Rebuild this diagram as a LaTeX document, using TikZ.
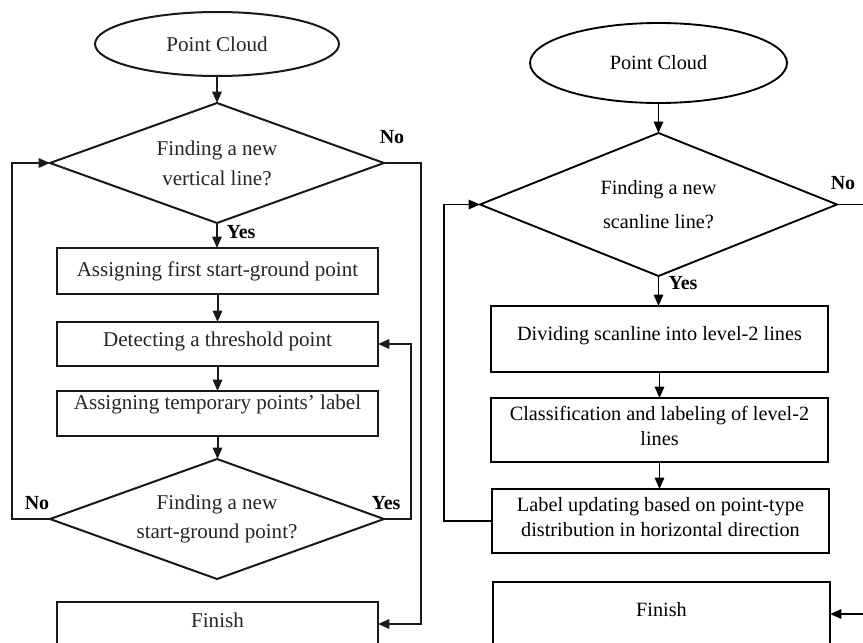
\documentclass[tikz,border=0pt]{standalone}
\usepackage{fontspec}
\setmainfont{Liberation Serif}
\usetikzlibrary{shapes.geometric,arrows.meta}
\begin{document}
\begin{tikzpicture}[x=0.75pt,y=-0.75pt,
  every node/.style={inner sep=0pt,outer sep=0pt},
  lsz/.style={font=\fontsize{15.8}{19}\selectfont,text=black!85},
  rsz/.style={font=\fontsize{15.2}{18.75}\selectfont,text=black},
  lline/.style={line width=1.5pt,draw=black!90},
  rline/.style={line width=1.4pt,draw=black},
  termbox/.style={ellipse,draw},
  decbox/.style={diamond,draw,shape aspect=2.8,align=center},
  procbox/.style={rectangle,draw,align=center},
  arr/.style={-{Triangle[length=8.5pt,width=7pt]}},
  yn/.style={font=\fontsize{15}{18}\selectfont\bfseries,text=black}
]
\fill[white] (0,0) rectangle (863,642);
\useasboundingbox (0,0) rectangle (863,642);
\clip (0,0) rectangle (863,642);

% ---------- left flowchart ----------
\node[termbox,lline,lsz,minimum width=183pt,minimum height=48pt] (pc1) at (217,44) {Point Cloud};
\node[decbox,lline,lsz,font=\fontsize{15.8}{22.5}\selectfont,minimum width=250.5pt,minimum height=90pt] (d1) at (217,163) {Finding a new\\vertical line?};
\node[procbox,lline,lsz,minimum width=240.75pt,minimum height=34.5pt] (b1) at (217.5,271) {Assigning first start-ground point};
\node[procbox,lline,lsz,minimum width=240.75pt,minimum height=33pt,text height=10.9pt,text depth=7.3pt] (b2) at (217.5,344) {Detecting a threshold point};
\node[procbox,lline,lsz,minimum width=240.75pt,minimum height=33.75pt,text height=10.9pt,text depth=16.4pt] (b3) at (217.5,413.5) {Assigning temporary points' label};
\node[decbox,lline,lsz,font=\fontsize{15.8}{21.75}\selectfont,minimum width=250.5pt,minimum height=90pt] (d2) at (217,519) {Finding a new\\start-ground point?};
\node[procbox,lline,lsz,minimum width=240.75pt,minimum height=33pt,text height=10.7pt,text depth=5.2pt] (fin1) at (217.5,624) {Finish};

\node[yn] (yes1) at (241,232) {Yes};
\node[yn] (no1) at (392,137) {No};
\node[yn] (no2) at (37,503) {No};
\node[yn] (yes2) at (386,503) {Yes};

\draw[lline,arr] (pc1.south) -- (pc1.south |- d1.north);
\draw[lline,arr] (d1.south) -- (d1.south |- b1.north);
\draw[lline,arr] (b1.south) -- (b2.north);
\draw[lline,arr] (b2.south) -- (b3.north);
\draw[lline,arr] (b3.south) -- (b3.south |- d2.north);
\draw[lline,arr] (d1.east) -- ++(37,0) |- (fin1.east);
\draw[lline,arr] (d2.west) -- ++(-38,0) |- (d1.west);
\draw[lline,arr] (d2.east) -- ++(27,0) |- (b2.east);

% ---------- right flowchart ----------
\node[termbox,rline,rsz,minimum width=192.75pt,minimum height=60pt] (pc2) at (658.5,63) {Point Cloud};
\node[decbox,rline,rsz,font=\fontsize{15.2}{25.5}\selectfont,minimum width=267.75pt,minimum height=107.25pt] (d3) at (658.5,204.5) {Finding a new\\scanline line?};
\node[procbox,rline,rsz,minimum width=252.75pt,minimum height=49.5pt,text height=10.5pt,text depth=7.8pt] (rb1) at (659.5,339) {Dividing scanline into level-2 lines};
\node[procbox,rline,rsz,minimum width=252.75pt,minimum height=48pt] (rb2) at (659.5,430) {Classification and labeling of level-2\\lines\\[-12.75pt]\mbox{}};
\node[procbox,rline,rsz,minimum width=252.75pt,minimum height=48pt] (rb3) at (660.5,521) {Label updating based on point-type\\distribution in horizontal direction\\[-12.75pt]\mbox{}};
\node[procbox,rline,rsz,minimum width=252.75pt,minimum height=48pt,text height=10.3pt,text depth=6pt] (fin2) at (661.5,614) {Finish};

\node[yn] (yes3) at (683,283) {Yes};
\node[yn] (no3) at (843,183) {No};

\draw[rline,arr] (pc2.south) -- (pc2.south |- d3.north);
\draw[rline,arr] (d3.south) -- (d3.south |- rb1.north);
\draw[rline,arr] (rb1.south) -- (rb1.south |- rb2.north);
\draw[rline,arr] (rb2.south) -- (rb2.south |- rb3.north);
\draw[rline,arr] (rb3.west) -- ++(-48,0) |- (d3.west);
\draw[rline,arr] (d3.east) -- ++(40,0) |- (fin2.east);
\end{tikzpicture}
\end{document}
